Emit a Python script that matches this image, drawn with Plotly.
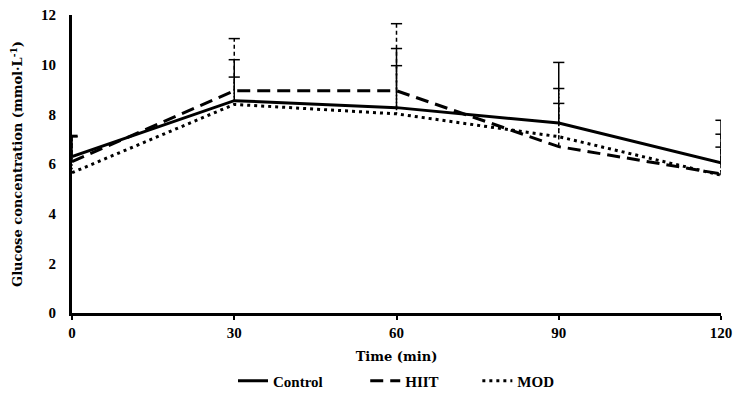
import plotly.graph_objects as go

time = [0, 30, 60, 90, 120]
control = [6.3, 8.55, 8.27, 7.65, 6.05]
hiit = [6.1, 8.95, 8.95, 6.7, 5.6]
mod = [5.65, 8.4, 8.02, 7.1, 5.55]
control_sd = [0.85, 1.65, 2.38, 2.44, 1.71]
hiit_sd = [1.0, 2.1, 2.7, 1.74, 1.6]
mod_sd = [1.45, 1.1, 1.94, 1.94, 1.13]
series_names = ["Control", "HIIT", "MOD"]
legend_pad = [10, 9, 0]
x_ticks = [0, 30, 60, 90, 120]
y_ticks = [0, 2, 4, 6, 8, 10, 12]

FONT = "Liberation Serif"
TFONT = "DejaVu Serif"
fig = go.Figure()

styles = [
    (control, control_sd, "solid", "solid", 3),
    (hiit, hiit_sd, "13px,7px", "4px,3px", 3),
    (mod, mod_sd, "3px,4px", "1.5px,2px", 3),
]

# error bars (upper only), drawn with each series' dash style
for vals, sd, ldash, edash, lw in styles:
    ex, ey = [], []
    for t, v, s in zip(time, vals, sd):
        ex += [t, t, None]
        ey += [v, v + s, None]
    fig.add_trace(go.Scatter(x=ex, y=ey, mode="lines", showlegend=False,
                             hoverinfo="skip", cliponaxis=True,
                             line=dict(color="black", width=1.5, dash=edash)))
    fig.add_trace(go.Scatter(x=time, y=[v + s for v, s in zip(vals, sd)],
                             mode="markers", showlegend=False, hoverinfo="skip",
                             cliponaxis=True,
                             marker=dict(symbol="line-ew", size=8, color="black",
                                         line=dict(color="black", width=1.5))))

for name, pad, (vals, sd, ldash, edash, lw) in zip(series_names, legend_pad, styles):
    fig.add_trace(go.Scatter(x=time, y=vals, mode="lines",
                             name=name + "&nbsp;" * pad,
                             line=dict(color="black", width=lw, dash=ldash)))

# page body has an 8px margin, so the figure is shrunk and shifted accordingly
fig.update_layout(
    width=733, height=393,
    margin=dict(l=64, r=20, t=7, b=88, autoexpand=False),
    paper_bgcolor="white", plot_bgcolor="white",
    font=dict(family=FONT, size=15, color="black", weight="bold"),
    showlegend=True,
    legend=dict(orientation="h", x=0.5, xanchor="center", y=-0.228, yanchor="middle",
                font=dict(family=FONT, size=15, color="black", weight="bold"),
                itemwidth=30, tracegroupgap=0),
    xaxis=dict(range=[0, 120], tickvals=x_ticks, ticktext=[str(v) for v in x_ticks],
               automargin=False, ticklabeloverflow="allow",
               showgrid=False, zeroline=False, showline=True, linecolor="black",
               linewidth=3, ticks="outside", ticklen=4, tickwidth=2, tickcolor="black",
               tickfont=dict(family=FONT, size=15, color="black", weight="bold"),
               title=dict(text="Time (min)", standoff=12,
                          font=dict(family=TFONT, size=13, color="black", weight="bold"))),
    yaxis=dict(range=[0, 12], tickvals=y_ticks, ticktext=[str(v) for v in y_ticks],
               automargin=False, ticklabeloverflow="allow",
               showgrid=False, zeroline=False, showline=True, linecolor="black",
               linewidth=3, ticks="", ticklabelstandoff=10,
               tickfont=dict(family=FONT, size=15, color="black", weight="bold"),
               title=dict(text="Glucose concentration (mmol·L<sup>-1</sup>)", standoff=16,
                          font=dict(family=TFONT, size=13, color="black", weight="bold"))),
)

fig.write_html("out.html")
